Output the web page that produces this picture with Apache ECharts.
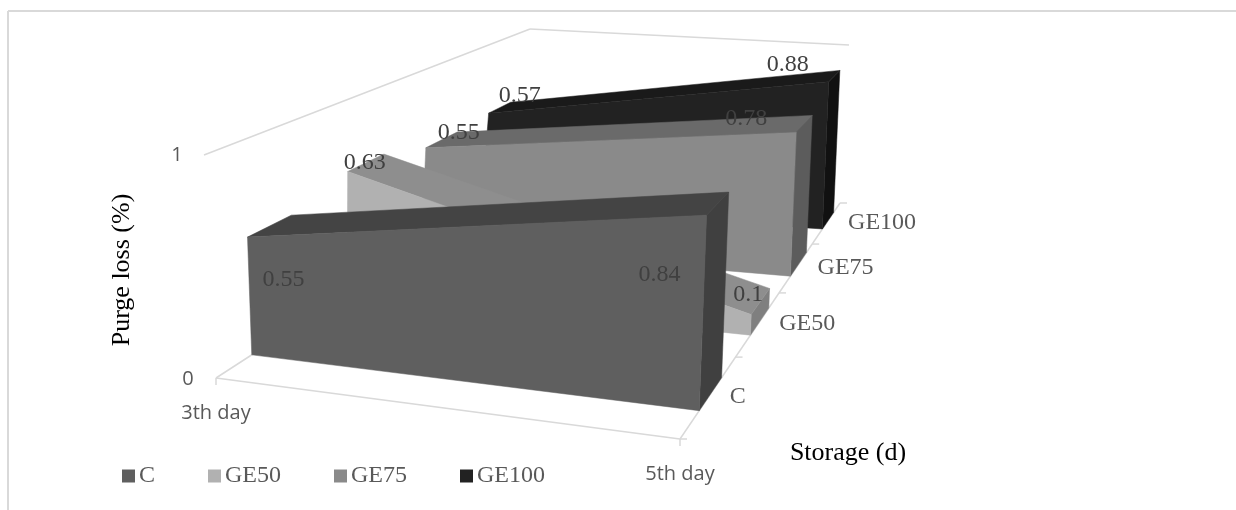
<!DOCTYPE html>
<html>
<head>
<meta charset="utf-8">
<style>
  html, body { margin: 0; padding: 0; background: #fff; }
  #main { width: 1236px; height: 510px; }
</style>
<script src="https://cdn.jsdelivr.net/npm/echarts@6/dist/echarts.min.js"></script>
</head>
<body>
<div id="main"></div>
<script>
const days = ["3th day", "5th day"];
const seriesNames = ["C", "GE50", "GE75", "GE100"];
const valueTicks = [0, 1];
const valuesC = [0.55, 0.84];
const valuesGE50 = [0.63, 0.1];
const valuesGE75 = [0.55, 0.78];
const valuesGE100 = [0.57, 0.88];
const allValues = [valuesC, valuesGE50, valuesGE75, valuesGE100];

// 3d box corners on the page, [day, depth, value] -> pixel
const box = {
  floorFL: [216, 378], floorFR: [680, 439], floorBL: [514, 185], floorBR: [840, 203],
  topFL: [205, 156], topFR: [689, 196], topBL: [530, 29], topBR: [847, 45]
};
const depthTicks = [0, 0.347, 0.619, 0.826, 1];
const seriesDepth = [[0.12, 0.26], [0.44, 0.555], [0.69, 0.79], [0.89, 0.96]];
// front, top, side
const faceColors = [
  ["#5f5f5f", "#444444", "#404040"],
  ["#b1b1b1", "#8e8e8e", "#7f7f7f"],
  ["#8a8a8a", "#6a6a6a", "#5c5c5c"],
  ["#222222", "#1a1a1a", "#111111"]
];
const labelOffsets = [
  [[36, 43], [-47, 60]],
  [[17, -9], [-3, -20]],
  [[33, -15], [-50, -14]],
  [[31, -17], [-41, -17]]
];

const serif = "'Liberation Serif', 'Times New Roman', serif";
const sans = "'Open Sans', sans-serif";

function lerp(a, b, t) {
  return [a[0] + (b[0] - a[0]) * t, a[1] + (b[1] - a[1]) * t];
}

function project(x, s, v) {
  const floor = lerp(lerp(box.floorFL, box.floorFR, x), lerp(box.floorBL, box.floorBR, x), s);
  const top = lerp(lerp(box.topFL, box.topFR, x), lerp(box.topBL, box.topBR, x), s);
  return lerp(floor, top, v);
}

function shift(p, dx, dy) {
  return [p[0] + dx, p[1] + dy];
}

function poly(api, pts, color) {
  return {
    type: "polygon",
    shape: { points: pts.map(p => api.coord(p)) },
    style: { fill: color, stroke: color, lineWidth: 0.5 }
  };
}

function line(api, a, b) {
  const p = api.coord(a);
  const q = api.coord(b);
  return {
    type: "line",
    shape: { x1: p[0], y1: p[1], x2: q[0], y2: q[1] },
    style: { stroke: "#d9d9d9", lineWidth: 1.5 }
  };
}

function label(api, p, text, font, size, color, align) {
  const c = api.coord(p);
  return {
    type: "text",
    x: c[0],
    y: c[1],
    z2: 10,
    style: {
      text: text,
      fontFamily: font,
      fontSize: size,
      fill: color,
      align: align || "center",
      verticalAlign: "middle"
    }
  };
}

function renderFrame(params, api) {
  const children = [];
  // floor and wall lines
  children.push(line(api, project(0, 0, 0), project(1, 0, 0)));
  children.push(line(api, project(0, 0, 0), project(0, 1, 0)));
  children.push(line(api, project(1, 0, 0), project(1, 1, 0)));
  children.push(line(api, shift(project(0, 0, 1), -1, -1), project(0, 1, 1)));
  children.push(line(api, project(0, 1, 1), shift(project(1, 1, 1), 2, 0)));
  // ticks
  children.push(line(api, project(0, 0, 0), shift(project(0, 0, 0), 0, 7)));
  children.push(line(api, project(1, 0, 0), shift(project(1, 0, 0), 0, 7)));
  depthTicks.forEach(s => {
    const p = project(1, s, 0);
    children.push(line(api, p, shift(p, 7, 0)));
  });
  valueTicks.forEach(v => {
    children.push(label(api, shift(project(0, 0, v), -28, 1 - 2 * v), String(v), sans, 20, "#595959"));
  });
  days.forEach((d, i) => {
    children.push(label(api, shift(project(i, 0, 0), 0, 35), d, sans, 20, "#595959"));
  });
  seriesNames.forEach((name, i) => {
    const mid = (depthTicks[i] + depthTicks[i + 1]) / 2;
    children.push(label(api, shift(project(1, mid, 0), 22, -1), name, serif, 24, "#595959", "left"));
  });
  children.push({
    type: "text", x: 122, y: 270, rotation: Math.PI / 2, z2: 10,
    style: { text: "Purge loss (%)", fontFamily: serif, fontSize: 26, fill: "#000", align: "center", verticalAlign: "middle" }
  });
  children.push(label(api, [848, 453], "Storage (d)", serif, 26, "#000"));
  return { type: "group", children: children };
}

function renderArea(i) {
  return function (params, api) {
    const vals = [api.value(0), api.value(1)];
    const s0 = seriesDepth[i][0];
    const s1 = seriesDepth[i][1];
    const colors = faceColors[i];
    const children = [
      poly(api, [project(1, s0, 0), project(1, s1, 0), project(1, s1, vals[1]), project(1, s0, vals[1])], colors[2]),
      poly(api, [project(0, s0, vals[0]), project(0, s1, vals[0]), project(1, s1, vals[1]), project(1, s0, vals[1])], colors[1]),
      poly(api, [project(0, s0, 0), project(1, s0, 0), project(1, s0, vals[1]), project(0, s0, vals[0])], colors[0])
    ];
    vals.forEach((v, k) => {
      const p = shift(project(k, s0, v), labelOffsets[i][k][0], labelOffsets[i][k][1]);
      children.push(label(api, p, String(v), serif, 24, "#404040"));
    });
    return { type: "group", children: children };
  };
}

const chart = echarts.init(document.getElementById("main"));

const option = {
  animation: false,
  grid: { left: 0, right: 0, top: 0, bottom: 0 },
  xAxis: { type: "value", min: 0, max: 1236, show: false },
  yAxis: { type: "value", min: 0, max: 510, inverse: true, show: false },
  legend: {
    left: 122,
    top: 464,
    padding: 0,
    itemWidth: 13,
    itemHeight: 13,
    itemGap: 53,
    icon: "rect",
    selectedMode: false,
    data: seriesNames,
    textStyle: { fontFamily: serif, fontSize: 24, color: "#595959", padding: [0, 0, 0, -1] }
  },
  graphic: [
    { type: "line", shape: { x1: 8, y1: 11, x2: 1236, y2: 11 }, style: { stroke: "#d9d9d9", lineWidth: 2 } },
    { type: "line", shape: { x1: 8, y1: 11, x2: 8, y2: 510 }, style: { stroke: "#d9d9d9", lineWidth: 2 } }
  ],
  series: [
    { type: "custom", silent: true, z: 1, clip: false, renderItem: renderFrame, data: [[0, 0]] }
  ].concat(seriesNames.map((name, i) => ({
    name: name,
    type: "custom",
    z: 6 - i,
    clip: false,
    itemStyle: { color: faceColors[i][0] },
    renderItem: renderArea(i),
    data: [allValues[i]]
  })))
};

chart.setOption(option);
</script>
</body>
</html>
